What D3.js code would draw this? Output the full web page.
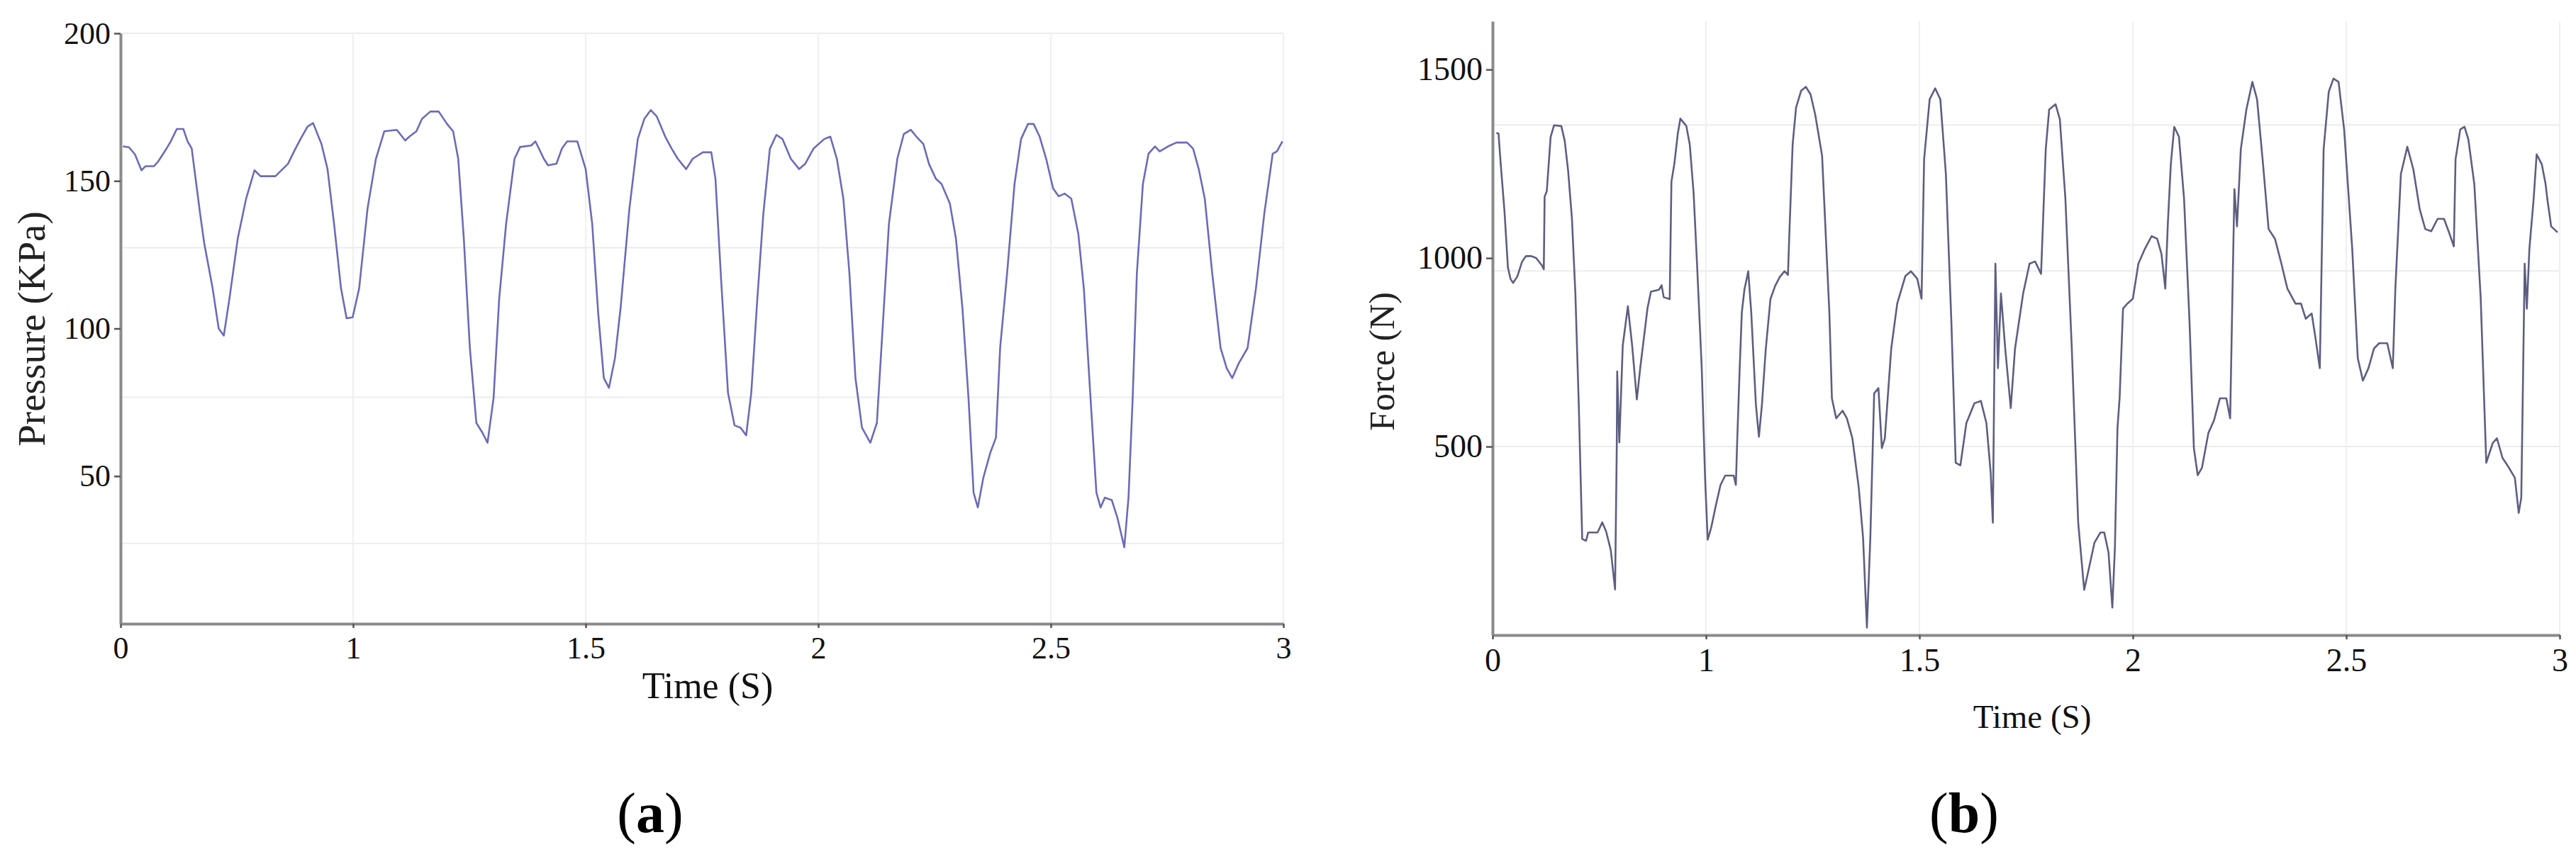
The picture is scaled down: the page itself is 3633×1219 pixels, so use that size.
<!DOCTYPE html>
<html><head><meta charset="utf-8">
<script src="https://cdn.jsdelivr.net/npm/d3@7"></script>
<style>html,body{margin:0;padding:0;background:#fff;} svg{display:block;}</style>
</head><body>
<svg id="c" width="3633" height="1219"></svg>
<script>
// ---- tick labels ----
const xTickValues = [0.5, 1, 1.5, 2, 2.5, 3];
const xTickLabels = ["0", "1", "1.5", "2", "2.5", "3"];
const pressureTicks = [50, 100, 150, 200];
const forceTicks = [500, 1000, 1500];
const pressureGrid = [200, 127.4, 76.7, 27.2];
const forceGrid = [1353, 966, 500];
const xGrid = [1, 1.5, 2, 2.5, 3];

// ---- series (time s, value) ----
const pressureSeries = [
[0.505,161.7],[0.518,161.4],[0.531,159],[0.545,153.6],[0.554,155],[0.572,155],[0.581,156.6],[0.599,161],[0.608,163.4],[0.621,167.6],
[0.635,167.6],[0.644,163.4],[0.653,161],[0.671,139],[0.680,128.8],[0.698,113.6],[0.711,100],[0.722,97.6],[0.734,110],[0.752,130.5],
[0.770,144],[0.788,153.6],[0.801,151.6],[0.833,151.6],[0.860,155.8],[0.873,160],[0.887,164.2],[0.902,168.4],[0.914,169.6],[0.932,162.5],
[0.945,154],[0.959,135.5],[0.974,113.6],[0.986,103.5],[0.999,103.8],[1.013,113.6],[1.031,140.6],[1.049,157.5],[1.067,166.8],[1.094,167.3],
[1.112,163.7],[1.121,165],[1.136,166.8],[1.148,171],[1.166,173.5],[1.184,173.5],[1.202,169.3],[1.215,166.8],[1.226,157.5],[1.238,130.5],
[1.251,93.4],[1.265,68],[1.278,64.7],[1.289,61.3],[1.302,76.5],[1.314,110],[1.329,135.5],[1.347,157.5],[1.359,161.5],[1.383,162],
[1.392,163.4],[1.410,157.5],[1.419,155.3],[1.437,155.8],[1.449,161],[1.460,163.4],[1.482,163.4],[1.500,154],[1.514,135.5],[1.527,105],
[1.539,83.2],[1.550,79.9],[1.563,90],[1.575,106.9],[1.594,140.6],[1.612,164.2],[1.626,171],[1.640,174],[1.653,171.8],[1.671,165],
[1.685,160.9],[1.698,157.5],[1.716,154],[1.730,157.5],[1.752,159.7],[1.770,159.7],[1.779,150.7],[1.791,117],[1.806,78.2],[1.820,67.2],
[1.833,66.4],[1.845,63.8],[1.856,78.2],[1.869,110],[1.882,139],[1.896,160.9],[1.910,165.6],[1.923,164.2],[1.941,157.5],[1.959,154],
[1.972,155.8],[1.990,161],[2.013,164.2],[2.026,165],[2.040,157.5],[2.054,144],[2.067,118.7],[2.080,83.2],[2.094,66.4],[2.112,61.3],
[2.126,68],[2.139,101.8],[2.152,135.5],[2.170,157.5],[2.184,165.9],[2.199,167.3],[2.211,165],[2.226,162.5],[2.238,155.8],[2.253,150.7],
[2.265,149],[2.283,142.3],[2.296,130.5],[2.310,106.9],[2.323,76.5],[2.334,44.4],[2.343,39.4],[2.355,49.5],[2.370,58],[2.382,63],
[2.391,93.4],[2.406,118.7],[2.422,149],[2.436,164.2],[2.451,169.3],[2.463,169.3],[2.476,165],[2.490,157.5],[2.505,147.4],[2.517,144.8],
[2.530,145.7],[2.544,144],[2.559,132.2],[2.571,113.6],[2.584,79.9],[2.598,44.4],[2.607,39.4],[2.616,42.7],[2.631,41.9],[2.643,36],
[2.658,25.9],[2.667,42.7],[2.676,76.5],[2.685,118.7],[2.698,149],[2.710,159.2],[2.724,161.7],[2.734,160],[2.752,161.7],[2.770,163],
[2.793,163],[2.806,160.9],[2.818,154],[2.831,144],[2.847,118.7],[2.865,93.4],[2.878,86.6],[2.890,83.2],[2.904,88.2],[2.923,93.4],
[2.941,113.6],[2.959,139],[2.977,159.2],[2.986,160],[2.998,163.4]
];

const forceSeries = [
[0.509,1332],[0.514,1330],[0.519,1251],[0.528,1123],[0.536,975],[0.542,945],[0.548,934],[0.558,951],[0.569,990],[0.578,1005],
[0.591,1005],[0.602,1000],[0.616,980],[0.620,970],[0.622,1163],[0.627,1177],[0.636,1321],[0.644,1352],[0.661,1350],[0.669,1311],
[0.677,1232],[0.686,1104],[0.694,906],[0.702,610],[0.710,255],[0.719,250],[0.724,272],[0.746,272],[0.757,299],[0.766,275],
[0.777,225],[0.787,121],[0.791,501],[0.792,699],[0.797,511],[0.805,768],[0.817,872],[0.827,768],[0.838,625],[0.846,709],
[0.863,867],[0.871,911],[0.890,916],[0.896,928],[0.901,896],[0.915,891],[0.919,1202],[0.926,1251],[0.934,1330],[0.940,1370],
[0.954,1350],[0.962,1301],[0.971,1172],[0.979,985],[0.990,709],[0.998,413],[1.004,253],[1.012,284],[1.023,343],[1.034,398],
[1.045,423],[1.065,423],[1.070,398],[1.073,511],[1.079,709],[1.084,856],[1.090,916],[1.099,965],[1.106,856],[1.117,610],
[1.124,526],[1.131,610],[1.140,758],[1.151,891],[1.162,926],[1.173,950],[1.184,965],[1.192,955],[1.195,1055],[1.203,1301],
[1.211,1399],[1.223,1444],[1.234,1454],[1.245,1434],[1.256,1380],[1.272,1271],[1.289,856],
[1.295,628],[1.305,575],[1.320,595],[1.330,575],[1.343,522],[1.358,390],[1.368,258],[1.377,20],[1.385,258],[1.394,641],
[1.404,655],[1.412,496],[1.419,522],[1.434,760],[1.448,879],[1.467,952],[1.480,965],[1.495,945],[1.505,892],[1.511,1262],
[1.524,1421],[1.537,1450],[1.549,1421],[1.562,1223],[1.575,826],[1.585,457],[1.596,450],[1.610,562],[1.629,615],[1.644,621],
[1.657,562],[1.667,430],[1.672,298],[1.678,985],[1.684,708],[1.691,906],[1.701,760],[1.714,602],[1.724,760],[1.743,906],
[1.758,985],[1.771,991],[1.785,958],[1.796,1289],[1.804,1394],[1.819,1408],[1.829,1368],[1.842,1157],[1.857,760],[1.872,298],
[1.886,120],[1.895,166],[1.910,245],[1.924,272],[1.933,272],[1.943,219],[1.952,73],[1.958,232],[1.964,549],[1.969,628],
[1.977,866],[1.987,879],[2.000,892],[2.013,985],[2.028,1024],[2.044,1058],[2.057,1051],[2.067,1011],[2.076,919],[2.082,1091],
[2.089,1249],[2.097,1348],[2.108,1322],[2.120,1157],[2.133,826],[2.143,496],[2.152,424],[2.162,444],[2.177,536],[2.190,569],
[2.204,628],[2.219,628],[2.228,575],[2.234,945],[2.238,1183],[2.244,1084],[2.253,1289],[2.266,1394],[2.280,1467],[2.291,1421],
[2.305,1249],[2.318,1077],[2.333,1051],[2.348,985],[2.362,919],[2.381,879],[2.394,879],[2.405,839],[2.419,853],[2.428,787],
[2.438,708],[2.447,1289],[2.459,1441],[2.470,1476],[2.482,1467],[2.495,1341],[2.514,1024],[2.527,734],[2.539,675],[2.552,708],
[2.565,760],[2.577,774],[2.596,774],[2.609,708],[2.615,919],[2.628,1223],[2.643,1295],[2.657,1236],[2.672,1130],[2.685,1077],
[2.699,1071],[2.714,1104],[2.729,1104],[2.742,1064],[2.752,1031],[2.756,1262],[2.767,1341],[2.777,1348],[2.786,1315],[2.800,1196],
[2.815,892],[2.828,457],[2.843,509],[2.853,522],[2.866,470],[2.881,444],[2.895,417],[2.904,324],[2.910,364],[2.918,985],
[2.923,866],[2.929,1024],[2.939,1157],[2.946,1275],[2.958,1249],[2.967,1196],[2.971,1157],[2.980,1084],[2.995,1068]
];

const svg = d3.select("#c");
const FONT = "'Liberation Serif','Times New Roman',serif";

function panel(cfg) {
  const g = svg.append("g");
  const x = d3.scaleLinear().domain([0.5, 3]).range([cfg.x0, cfg.x1]);
  const y = d3.scaleLinear().domain([0, cfg.ymax]).range([cfg.yb, cfg.yt]);

  // grid
  g.append("g").selectAll("line").data(cfg.hgrid).join("line")
    .attr("x1", cfg.x0).attr("x2", cfg.x1)
    .attr("y1", d => y(d)).attr("y2", d => y(d))
    .attr("stroke", "#ececec").attr("stroke-width", 2);
  g.append("g").selectAll("line").data(xGrid).join("line")
    .attr("x1", d => x(d)).attr("x2", d => x(d))
    .attr("y1", cfg.yt).attr("y2", cfg.yb)
    .attr("stroke", "#f0f0f0").attr("stroke-width", 2);

  // line
  const line = d3.line().x(d => x(d[0])).y(d => y(d[1]));
  g.append("path").datum(cfg.data)
    .attr("fill", "none").attr("stroke", cfg.color)
    .attr("stroke-width", 2.6).attr("stroke-linejoin", "round")
    .attr("d", line);

  // axes
  const xa = g.append("g").attr("transform", `translate(0,${cfg.yb})`)
    .call(d3.axisBottom(x).tickValues(xTickValues)
      .tickFormat((d, i) => xTickLabels[i]).tickSizeInner(6).tickSizeOuter(0).tickPadding(12));
  const ya = g.append("g").attr("transform", `translate(${cfg.x0},0)`)
    .call(d3.axisLeft(y).tickValues(cfg.yticks).tickFormat(d3.format("d"))
      .tickSizeInner(9).tickSizeOuter(0).tickPadding(5));
  [xa, ya].forEach(a => {
    a.select(".domain").attr("stroke", "#8a8a8a").attr("stroke-width", 4);
    a.selectAll(".tick line").attr("stroke", "#555").attr("stroke-width", 2.5);
    a.selectAll(".tick text").attr("fill", "#111")
      .style("font-family", FONT).style("font-size", cfg.tickFont + "px");
  });

  // axis titles
  g.append("text").attr("x", cfg.xtitleX).attr("y", cfg.xtitleY)
    .attr("text-anchor", "middle").attr("fill", "#111")
    .style("font-family", FONT).style("font-size", cfg.xtitleFont + "px")
    .text("Time (S)");
  g.append("text")
    .attr("transform", `translate(${cfg.ytitleX},${cfg.ytitleY}) rotate(-90)`)
    .attr("text-anchor", "middle").attr("fill", "#222")
    .style("font-family", FONT).style("font-size", cfg.ytitleFont + "px")
    .text(cfg.ytitle);

  // panel letter
  const t = svg.append("text").attr("x", cfg.letterX).attr("y", 1174)
    .attr("text-anchor", "middle").attr("fill", "#000")
    .style("font-family", FONT).style("font-size", "80px");
  t.append("tspan").text("(");
  t.append("tspan").style("font-weight", "bold").text(cfg.letter);
  t.append("tspan").text(")");
}

panel({
  data: pressureSeries, color: "#6b6bb8",
  x0: 170, x1: 1810, yb: 880, yt: 47, ymax: 200,
  yticks: pressureTicks, hgrid: pressureGrid, tickFont: 44,
  xtitleX: 998, xtitleY: 985, xtitleFont: 52,
  ytitle: "Pressure (KPa)", ytitleX: 63, ytitleY: 464, ytitleFont: 55,
  letter: "a", letterX: 917
});

panel({
  data: forceSeries, color: "#5e5e82",
  x0: 2105, x1: 3610, yb: 896, yt: 30, ymax: 1628,
  yticks: forceTicks, hgrid: forceGrid, tickFont: 46,
  xtitleX: 2866, xtitleY: 1027, xtitleFont: 47,
  ytitle: "Force (N)", ytitleX: 1966, ytitleY: 510, ytitleFont: 50,
  letter: "b", letterX: 2770
});
</script>
</body></html>
